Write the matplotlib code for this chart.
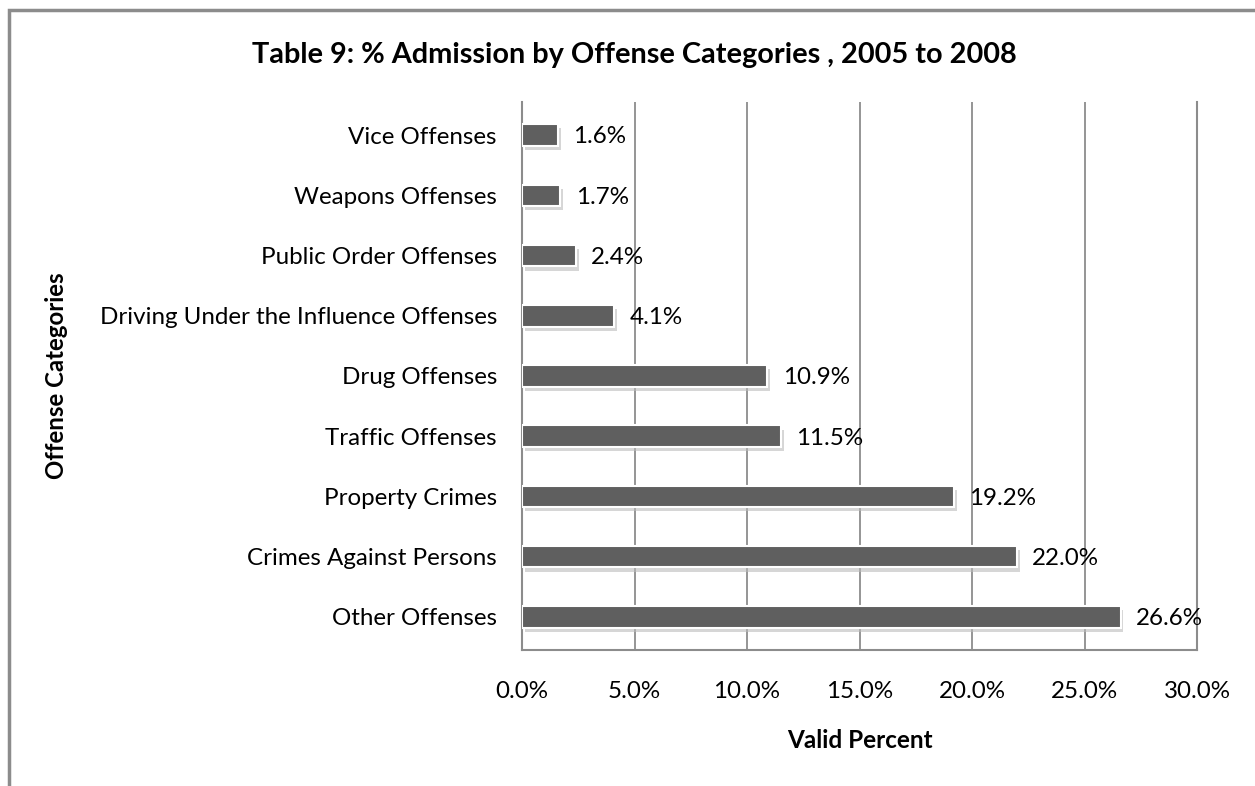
import matplotlib.pyplot as plt
import matplotlib.patheffects as pe
from matplotlib.patches import Rectangle

plt.rcParams['font.family'] = ['Lato', 'DejaVu Sans']

# offense categories, listed bottom to top
categories = ['Other Offenses', 'Crimes Against Persons', 'Property Crimes',
              'Traffic Offenses', 'Drug Offenses',
              'Driving Under the Influence Offenses', 'Public Order Offenses',
              'Weapons Offenses', 'Vice Offenses']
valid_percent = [26.6, 22.0, 19.2, 11.5, 10.9, 4.1, 2.4, 1.7, 1.6]
x_ticks = [0, 5, 10, 15, 20, 25, 30]

fig = plt.figure(figsize=(12.55, 7.86), dpi=100)
ax = fig.add_axes([522 / 1255, 1 - 650 / 786, 675 / 1255, 548 / 786])

# outer chart border
fig.add_artist(Rectangle((9 / 1255, -0.05), 1.2, 1 - 10 / 786 + 0.05,
                         transform=fig.transFigure, fill=False,
                         edgecolor='#8c8c8c', linewidth=2.5))

pos = range(len(categories))
bars = ax.barh(pos, valid_percent, height=0.36, color='#5f5f5f',
               edgecolor='white', linewidth=1.5, zorder=3)
for b in bars:
    b.set_path_effects([pe.SimplePatchShadow(offset=(2, -3), shadow_rgbFace='#bbbbbb', alpha=0.6),
                        pe.Normal()])

for p, v in zip(pos, valid_percent):
    ax.text(v + 0.68, p - 0.03, f'{v:.1f}%', va='center', ha='left', fontsize=17.4, zorder=4)

ax.set_xlim(0, 30)
ax.set_ylim(-0.55, len(categories) - 0.45)
ax.set_xticks(x_ticks)
ax.set_xticklabels([f'{t:.1f}%' for t in x_ticks], fontsize=17.4)
ax.set_yticks(list(pos))
ax.set_yticklabels(categories, fontsize=17.4)
ax.tick_params(length=0)
ax.tick_params(axis='x', pad=22)
ax.tick_params(axis='y', pad=18)

ax.grid(axis='x', color='#8c8c8c', linewidth=1.3, zorder=0)
ax.spines['top'].set_visible(False)
for s in ['left', 'bottom', 'right']:
    ax.spines[s].set_color('#8c8c8c')
    ax.spines[s].set_linewidth(1.5)

ax.set_xlabel('Valid Percent', fontsize=17.5, fontweight='bold', labelpad=20)
fig.text(57 / 1255, 1 - 376 / 786, 'Offense Categories', rotation=90,
         ha='center', va='center', fontsize=17.3, fontweight='bold')
fig.text(634 / 1255, 1 - 55 / 786, 'Table 9: % Admission by Offense Categories , 2005 to 2008',
         ha='center', va='center', fontsize=20.8, fontweight='bold')

fig.savefig('out.png', dpi=100, facecolor='white')
